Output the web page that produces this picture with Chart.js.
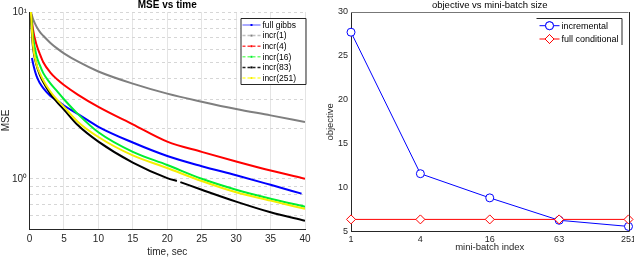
<!DOCTYPE html>
<html>
<head>
<meta charset="utf-8">
<script src="https://cdn.jsdelivr.net/npm/chart.js@4.4.1/dist/chart.umd.min.js"></script>
<style>
  html, body { margin: 0; padding: 0; background: #fff; }
  #wrap { position: relative; width: 634px; height: 258px; overflow: hidden; }
  canvas { position: absolute; top: 0; }
  #mse-chart { left: 0; }
  #obj-chart { left: 317px; }
</style>
</head>
<body>
<div id="wrap">
  <canvas id="mse-chart" width="317" height="258"></canvas>
  <canvas id="obj-chart" width="317" height="258"></canvas>
</div>
<script>
// --- left panel: MSE vs time ---
const incrTimes = [0.2, 0.5, 1, 1.5, 2, 3, 4, 5, 7, 10, 15, 20, 25, 30, 35, 40];
const gibbsTimes = [0.35, 0.6, 1, 1.5, 2, 3, 4, 5, 7, 10, 15, 20, 25, 30, 35, 39.5];
const blackTimes = [0.15, 0.5, 1, 1.5, 2, 3, 4, 5, 7, 10, 15, 20, 21.4, 21.65, 21.9, 25, 30, 35, 40];

const mseFullGibbs = [5.3, 4.75, 4.15, 3.75, 3.5, 3.15, 2.95, 2.75, 2.45, 2.05, 1.65, 1.37, 1.19, 1.05, 0.92, 0.815];
const mseIncr1 = [10, 9.1, 8.2, 7.6, 7.2, 6.55, 6.05, 5.65, 5.05, 4.4, 3.72, 3.24, 2.9, 2.62, 2.4, 2.19];
const mseIncr4 = [10, 7.9, 6.4, 5.6, 5.0, 4.35, 3.95, 3.65, 3.2, 2.7, 2.12, 1.67, 1.45, 1.27, 1.12, 1.0];
const mseIncr16 = [10, 7.2, 5.5, 4.8, 4.3, 3.75, 3.35, 3.0, 2.45, 1.9, 1.45, 1.21, 1.0, 0.86, 0.76, 0.68];
const mseIncr83 = [10, 6.2, 4.85, 4.2, 3.8, 3.25, 2.88, 2.6, 2.1, 1.67, 1.25, 1.01, 0.97, null, 0.955, 0.86, 0.73, 0.63, 0.56];
const mseIncr251 = [10, 6.4, 4.9, 4.3, 3.9, 3.35, 2.98, 2.7, 2.2, 1.78, 1.38, 1.16, 0.97, 0.83, 0.74, 0.66];

const mseGridValues = [0.5, 0.6, 0.7, 0.8, 0.9, 1, 2, 3, 4, 5, 6, 7, 8, 9, 10];
const mseLegendLabels = ['full gibbs', 'incr(1)', 'incr(4)', 'incr(16)', 'incr(83)', 'incr(251)'];

// --- right panel: objective vs mini-batch size ---
const miniBatchLabels = ['1', '4', '16', '63', '251'];
const objIncremental = [27.7, 11.6, 8.85, 6.3, 5.6];
const objFullConditional = [6.4, 6.4, 6.4, 6.4, 6.4];

const FONT = '"Liberation Sans", Arial, Helvetica, sans-serif';
const INK = '#262626';

function pairs(xs, ys) {
    return xs.map((x, i) => ({ x, y: ys[i] }));
}

// title centred over the plot area, like matlab does
const axesTitle = {
    id: 'axesTitle',
    afterDraw(chart, args, opts) {
        const { ctx, chartArea } = chart;
        ctx.save();
        ctx.font = opts.font;
        ctx.fillStyle = '#000';
        ctx.textAlign = 'center';
        ctx.textBaseline = 'middle';
        ctx.fillText(opts.text, (chartArea.left + chartArea.right) / 2, opts.y);
        ctx.restore();
    }
};

// boxed legend drawn in data order (not draw order)
const boxLegend = {
    id: 'boxLegend',
    afterDraw(chart, args, opts) {
        const { ctx } = chart;
        const ds = chart.data.datasets;
        ctx.save();
        ctx.fillStyle = '#fff';
        if (opts.fill) ctx.fillRect(opts.x, opts.y, opts.w, opts.h);
        ctx.strokeStyle = INK;
        ctx.lineWidth = 1;
        ctx.beginPath();
        if (opts.sides === 'tr') {
            ctx.moveTo(opts.x, opts.y + 0.5);
            ctx.lineTo(opts.x + opts.w + 0.5, opts.y + 0.5);
            ctx.lineTo(opts.x + opts.w + 0.5, opts.y + opts.h);
        } else {
            ctx.rect(opts.x + 0.5, opts.y + 0.5, opts.w, opts.h);
        }
        ctx.stroke();
        ctx.font = opts.font;
        ctx.textBaseline = 'middle';
        ctx.textAlign = 'left';
        opts.order.forEach((idx, row) => {
            const d = ds[idx];
            const y = opts.y + opts.first + row * opts.step;
            ctx.strokeStyle = opts.lineColors ? opts.lineColors[row] : d.borderColor;
            ctx.lineWidth = opts.lineWidth;
            ctx.setLineDash(opts.dashes ? opts.dashes[row] : []);
            ctx.beginPath();
            ctx.moveTo(opts.x + opts.lx0, y);
            ctx.lineTo(opts.x + opts.lx1, y);
            ctx.stroke();
            ctx.setLineDash([]);
            const cx = opts.x + (opts.lx0 + opts.lx1) / 2;
            if (opts.markers) {
                ctx.fillStyle = '#fff';
                ctx.strokeStyle = d.borderColor;
                ctx.lineWidth = 1;
                Chart.helpers.drawPoint(ctx, { pointStyle: d.pointStyle, radius: d.pointRadius, borderWidth: 1 }, cx, y);
                ctx.fill();
                ctx.stroke();
            } else {
                ctx.fillStyle = d.borderColor;
                ctx.fillRect(cx - 1, y - 1, 2, 2);
            }
            ctx.fillStyle = '#000';
            ctx.fillText(opts.labels[row], opts.x + opts.tx, y + 0.5);
        });
        ctx.restore();
    }
};

// right panel has a box round the axes
const axesBox = {
    id: 'axesBox',
    afterDatasetsDraw(chart, args, opts) {
        if (!opts.enabled) return;
        const { ctx, chartArea: a } = chart;
        ctx.save();
        ctx.lineWidth = 1;
        ctx.strokeStyle = '#777';
        ctx.beginPath();
        ctx.moveTo(a.left, Math.round(a.top) + 0.5);
        ctx.lineTo(a.right, Math.round(a.top) + 0.5);
        ctx.stroke();
        ctx.strokeStyle = INK;
        ctx.beginPath();
        ctx.moveTo(Math.round(a.right) + 0.5, a.top);
        ctx.lineTo(Math.round(a.right) + 0.5, a.bottom);
        ctx.stroke();
        ctx.restore();
    }
};

Chart.register(axesTitle, boxLegend, axesBox);

new Chart(document.getElementById('mse-chart'), {
    type: 'line',
    data: {
        datasets: [
            { label: 'full gibbs', data: pairs(gibbsTimes, mseFullGibbs), borderColor: '#0000ff', order: 5 },
            { label: 'incr(1)', data: pairs(incrTimes, mseIncr1), borderColor: '#7f7f7f', order: 4 },
            { label: 'incr(4)', data: pairs(incrTimes, mseIncr4), borderColor: '#ff0000', order: 3 },
            { label: 'incr(16)', data: pairs(incrTimes, mseIncr16), borderColor: '#00ee33', order: 2 },
            { label: 'incr(83)', data: pairs(blackTimes, mseIncr83), borderColor: '#000000', order: 1 },
            { label: 'incr(251)', data: pairs(incrTimes, mseIncr251), borderColor: '#f5ee00', order: 0 },
        ],
    },
    options: {
        responsive: false, animation: false, spanGaps: false,
        layout: { padding: { top: 12, right: 12, left: 0, bottom: 0 } },
        elements: {
            point: { radius: 0 },
            line: { borderWidth: 2, cubicInterpolationMode: 'monotone' },
        },
        plugins: {
            legend: { display: false },
            tooltip: { enabled: false },
            axesTitle: { text: 'MSE vs time', font: 'bold 10px ' + FONT, y: 5.5 },
            boxLegend: {
                x: 240.5, y: 18, w: 65, h: 66, first: 7, step: 10.6,
                lx0: 2, lx1: 20, tx: 22, lineWidth: 1.5,
                font: '8.5px ' + FONT, fill: true,
                order: [0, 1, 2, 3, 4, 5], labels: mseLegendLabels,
                lineColors: ['#8c8cff', '#c0c0c0', '#ff4040', '#70ff70', '#202020', '#ffff40'],
                dashes: [[], [3, 2], [3, 2], [3, 2], [3, 2], [3, 2]],
            },
            axesBox: { enabled: false },
        },
        scales: {
            x: {
                type: 'linear', min: 0, max: 40,
                ticks: { stepSize: 5, padding: 4, color: INK, font: { family: FONT, size: 10 }, maxRotation: 0 },
                grid: { color: '#e4e4e4', drawTicks: false },
                border: { color: INK },
                title: { display: true, text: 'time, sec', color: INK, font: { family: FONT, size: 10 }, padding: 0 },
                afterFit(s) { s.height = 29; s.paddingLeft = 0; s.paddingRight = 0; },
            },
            y: {
                type: 'logarithmic', min: 0.5, max: 10,
                afterBuildTicks(s) { s.ticks = mseGridValues.map(v => ({ value: v })); },
                ticks: {
                    autoSkip: false, padding: 2.5, color: INK, font: { family: FONT, size: 10 },
                    callback: v => (v === 1 ? '10\u2070' : v === 10 ? '10\u00b9' : ''),
                },
                grid: { color: '#d6d6d6', drawTicks: false },
                border: { color: INK, dash: [3, 3] },
                title: { display: true, text: 'MSE', color: INK, font: { family: FONT, size: 10 }, padding: 0 },
                afterFit(s) { s.width = 29.5; s.paddingTop = 0; s.paddingBottom = 0; },
            },
        },
    },
});

new Chart(document.getElementById('obj-chart'), {
    type: 'line',
    data: {
        labels: miniBatchLabels,
        datasets: [
            {
                label: 'incremental', data: objIncremental, borderColor: '#0000ff', borderWidth: 1,
                pointStyle: 'circle', pointRadius: 4, pointBorderColor: '#0000ff', pointBackgroundColor: '#fff', pointBorderWidth: 1, order: 1,
            },
            {
                label: 'full conditional', data: objFullConditional, borderColor: '#ff0000', borderWidth: 1,
                pointStyle: 'rectRot', pointRadius: 4.5, pointBorderColor: '#ff0000', pointBackgroundColor: '#fff', pointBorderWidth: 1, order: 0,
            },
        ],
    },
    options: {
        responsive: false, animation: false,
        layout: { padding: { top: 12, right: 5.5, left: 0, bottom: 0 } },
        plugins: {
            legend: { display: false },
            tooltip: { enabled: false },
            axesTitle: { text: 'objective vs mini-batch size', font: '9.5px ' + FONT, y: 5 },
            boxLegend: {
                x: 219.5, y: 18, w: 85, h: 27, first: 7.7, step: 13.3,
                lx0: 3, lx1: 23, tx: 25, lineWidth: 1,
                font: '9px ' + FONT, fill: false, sides: 'tr', markers: true,
                order: [0, 1], labels: ['incremental', 'full conditional'],
            },
            axesBox: { enabled: true },
        },
        scales: {
            x: {
                offset: false,
                ticks: { padding: 2, color: INK, font: { family: FONT, size: 9 }, maxRotation: 0, autoSkip: false },
                grid: { display: false, drawTicks: false },
                border: { color: INK },
                title: { display: true, text: 'mini-batch index', color: INK, font: { family: FONT, size: 9.5 }, padding: { top: 0, bottom: 5 } },
                afterFit(s) { s.height = 26.3; s.paddingLeft = 0; s.paddingRight = 0; },
            },
            y: {
                min: 5, max: 30,
                ticks: { stepSize: 5, padding: 3, color: INK, font: { family: FONT, size: 9 } },
                grid: { display: false, drawTicks: false },
                border: { color: INK },
                title: { display: true, text: 'objective', color: INK, font: { family: FONT, size: 9.5 }, padding: { top: 8, bottom: 0 } },
                afterFit(s) { s.width = 34; s.paddingTop = 0; s.paddingBottom = 0; },
            },
        },
    },
});
</script>
</body>
</html>
